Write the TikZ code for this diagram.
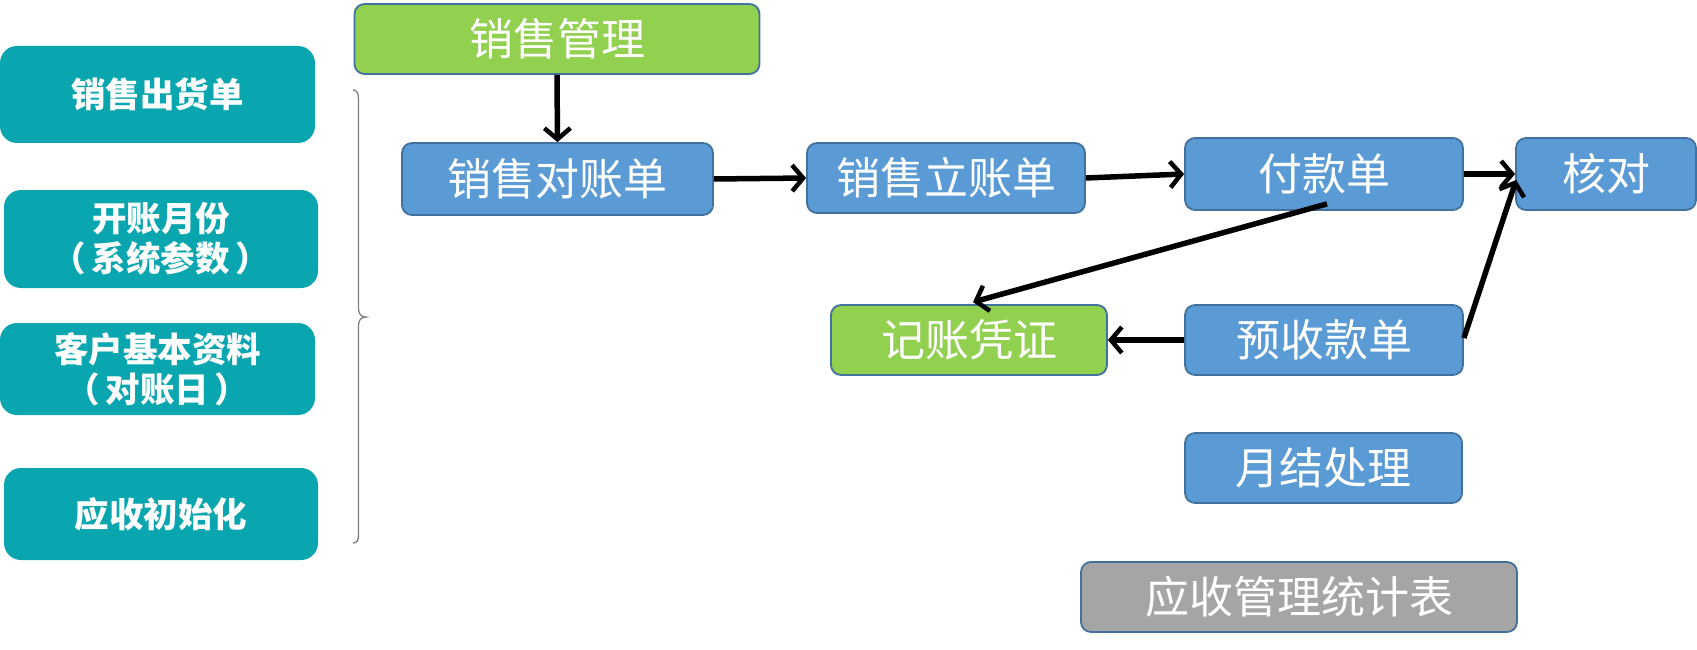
\documentclass[tikz,border=0pt]{standalone}
\usepackage{fontspec}
\newfontfamily\cjk{Noto Sans CJK SC}
\usetikzlibrary{arrows.meta}
\definecolor{bluefill}{HTML}{5B9BD5}
\definecolor{blueedge}{HTML}{41719C}
\definecolor{greenfill}{HTML}{92D050}
\definecolor{grayfill}{HTML}{A5A5A5}
\definecolor{tealfill}{RGB}{10,166,176}
\definecolor{bracegray}{HTML}{7F7F7F}
\tikzset{
  box/.style={draw=blueedge, line width=1.8pt, rounded corners=10pt, inner sep=0pt,
    text=white, font=\cjk\fontsize{44}{50}\selectfont, minimum height=70pt},
  bluebox/.style={box, fill=bluefill},
  greenbox/.style={box, fill=greenfill},
  graybox/.style={box, fill=grayfill},
  tealbox/.style={fill=tealfill, rounded corners=17pt, inner sep=0pt, text=white,
    align=center, font=\cjk\bfseries\fontsize{34.5}{40}\selectfont},
  arr/.style={draw=black, line width=5.5pt, -{Straight Barb[length=11pt,width=26pt,line width=4.5pt]}},
}
\begin{document}
\begin{tikzpicture}[x=1pt,y=-1pt]
\useasboundingbox (0,0) rectangle (1697,650);
% left teal boxes
\node[tealbox, minimum width=315pt, minimum height=97pt] (a1) at (157.5,94.5) {销售出货单};
\node[tealbox, minimum width=314pt, minimum height=98pt] (a2) at (161,239) {开账月份\\（\,系统参数\,）};
\node[tealbox, minimum width=315pt, minimum height=92pt] (a3) at (157.5,369) {客户基本资料\\（\,对账日\,）};
\node[tealbox, minimum width=314pt, minimum height=92pt] (a4) at (161,514) {应收初始化};
% brace
\draw[bracegray, line width=1.3pt]
  (353,90) .. controls (357,90) and (358.5,93) .. (358.5,100)
  -- (358.5,308) .. controls (358.5,314) and (361,317) .. (366,317)
  .. controls (361,317) and (358.5,320) .. (358.5,326)
  -- (358.5,534) .. controls (358.5,541) and (357,543) .. (353,543);
% main nodes
\node[greenbox, minimum width=405pt] (sm) at (557,39) {销售管理};
\node[bluebox, minimum width=311pt, minimum height=72pt] (dz) at (557.5,179) {销售对账单};
\node[bluebox, minimum width=278pt] (lz) at (946,178) {销售立账单};
\node[bluebox, minimum width=278pt, minimum height=72pt] (fk) at (1324,174) {付款单};
\node[bluebox, minimum width=180pt, minimum height=72pt] (hd) at (1606,174) {核对};
\node[greenbox, minimum width=276pt] (jz) at (969,340) {记账凭证};
\node[bluebox, minimum width=278pt] (ys) at (1324,340) {预收款单};
\node[bluebox, minimum width=277pt] (yj) at (1323.5,468) {月结处理};
\node[graybox, minimum width=436pt] (tj) at (1299,597) {应收管理统计表};
% arrows
\draw[arr] (sm.south) -- (dz.north);
\draw[arr] (dz.east) -- (lz.west);
\draw[arr] (lz.east) -- (fk.west);
\draw[arr] (fk.east) -- (hd.west);
\draw[arr] ([shift={(3,-7)}]fk.south) -- ([shift={(4,-2)}]jz.north);
\draw[arr] (ys.west) -- (jz.east);
\draw[arr] ([shift={(0,-2)}]ys.east) -- ([shift={(1,6)}]hd.west);
\end{tikzpicture}
\end{document}
